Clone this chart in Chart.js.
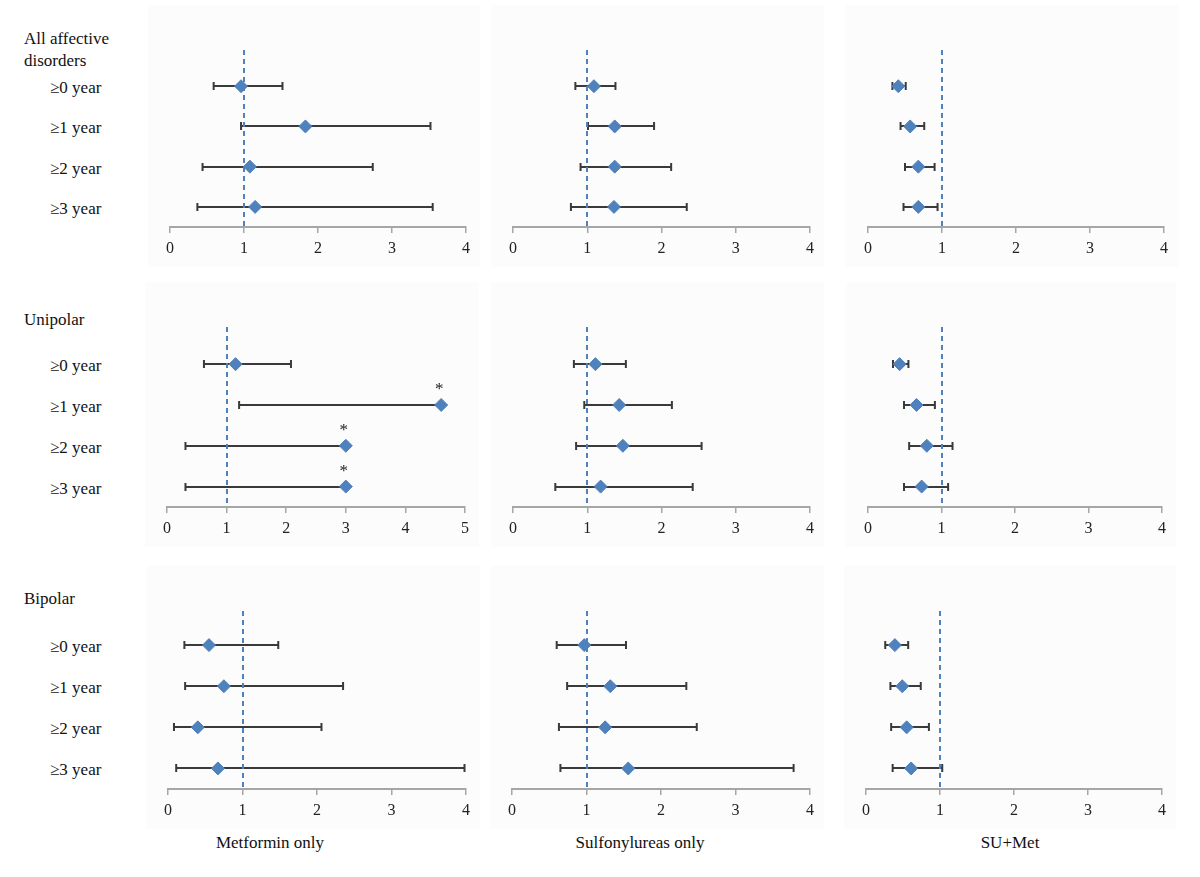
<!DOCTYPE html>
<html>
<head>
<meta charset="utf-8">
<script src="https://cdn.jsdelivr.net/npm/chart.js@4.4.0/dist/chart.umd.min.js"></script>
<style>
  body { margin:0; background:#fff; width:1200px; height:877px; position:relative; overflow:hidden;
         font-family:"Liberation Serif", "DejaVu Serif", serif; color:#111; }
  .bg { position:absolute; background:#fcfcfc; }
  .panel { position:absolute; }
  .lbl { position:absolute; font-size:17px; line-height:22px; }
  .yr { position:absolute; font-size:17px; line-height:22px; white-space:nowrap; }
  .title { position:absolute; font-size:17px; line-height:22px; white-space:nowrap; transform:translateX(-50%); }
</style>
</head>
<body>
<div id="root"></div>
<script>
const years = ['≥0 year', '≥1 year', '≥2 year', '≥3 year'];
const groups = ['All affective disorders', 'Unipolar', 'Bipolar'];
const treatments = ['Metformin only', 'Sulfonylureas only', 'SU+Met'];
const axisMax = [[4, 4, 4], [5, 4, 4], [4, 4, 4]];

// odds ratio + 95% CI, one list per treatment (Met, SU, SU+Met), rows = years
const allOR   = [[0.96, 1.83, 1.08, 1.15], [1.09, 1.37, 1.37, 1.36], [0.41, 0.57, 0.68, 0.68]];
const allLow  = [[0.59, 0.96, 0.44, 0.37], [0.84, 1.01, 0.91, 0.78], [0.33, 0.44, 0.50, 0.48]];
const allHigh = [[1.52, 3.52, 2.74, 3.55], [1.38, 1.90, 2.13, 2.34], [0.51, 0.76, 0.90, 0.94]];

const uniOR   = [[1.15, 4.60, 3.00, 3.00], [1.11, 1.43, 1.48, 1.18], [0.43, 0.66, 0.80, 0.73]];
const uniLow  = [[0.62, 1.21, 0.31, 0.31], [0.82, 0.96, 0.85, 0.57], [0.34, 0.49, 0.56, 0.49]];
const uniHigh = [[2.08, null, null, null], [1.52, 2.14, 2.54, 2.42], [0.55, 0.91, 1.15, 1.09]];
const uniStar = [[false, true, true, true], [false, false, false, false], [false, false, false, false]];

const biOR    = [[0.55, 0.75, 0.40, 0.67], [0.97, 1.32, 1.25, 1.56], [0.39, 0.49, 0.55, 0.61]];
const biLow   = [[0.22, 0.23, 0.08, 0.11], [0.60, 0.74, 0.63, 0.65], [0.26, 0.33, 0.34, 0.36]];
const biHigh  = [[1.48, 2.35, 2.06, 3.98], [1.53, 2.34, 2.48, 3.78], [0.57, 0.74, 0.85, 1.03]];

const noStar = [[false, false, false, false], [false, false, false, false], [false, false, false, false]];

const groupData = [
  { or: allOR, low: allLow, high: allHigh, star: noStar },
  { or: uniOR, low: uniLow, high: uniHigh, star: uniStar },
  { or: biOR,  low: biLow,  high: biHigh,  star: noStar }
];

// layout (page pixels)
const rowTop  = [50, 327, 611];
const rowAxis = [227, 507, 789];
const rowYMin = [-0.9, -0.91, -0.83];
const colX0 = [[170, 513, 868], [167, 513, 868], [168, 512, 866]];
const colX1 = [[466, 810, 1164], [465, 810, 1162], [466, 810, 1162]];
const groupLabelTop = [28, 309, 588];
const titleX = [270, 640, 1010];

const PAD = 10, AXIS_H = 34, PAD_B = 4;
const blue = '#4f81bd';
const root = document.getElementById('root');

const forestPlugin = {
  id: 'forest',
  beforeDatasetsDraw(chart) {
    const { ctx, chartArea } = chart;
    const x = chart.scales.x, y = chart.scales.y;
    const ds = chart.data.datasets[0];
    ctx.save();
    ctx.strokeStyle = '#3a3a3a';
    ctx.lineWidth = 2;
    ds.or.forEach((v, i) => {
      const py = Math.round(y.getPixelForValue(i));
      const xl = x.getPixelForValue(ds.low[i]);
      const xh = x.getPixelForValue(ds.high[i] == null ? v : ds.high[i]);
      ctx.beginPath();
      ctx.moveTo(xl, py); ctx.lineTo(xh, py);
      ctx.moveTo(xl, py - 4); ctx.lineTo(xl, py + 4);
      if (ds.high[i] != null) { ctx.moveTo(xh, py - 4); ctx.lineTo(xh, py + 4); }
      ctx.stroke();
    });
    // reference line at OR = 1
    const rx = Math.round(x.getPixelForValue(1));
    ctx.strokeStyle = blue;
    ctx.lineWidth = 2;
    ctx.setLineDash([5, 4]);
    ctx.beginPath();
    ctx.moveTo(rx, chartArea.top);
    ctx.lineTo(rx, chartArea.bottom);
    ctx.stroke();
    ctx.restore();
  },
  afterDatasetsDraw(chart) {
    const { ctx } = chart;
    const x = chart.scales.x, y = chart.scales.y;
    const ds = chart.data.datasets[0];
    ctx.save();
    ctx.fillStyle = '#222';
    ctx.font = '17px "Liberation Serif"';
    ctx.textAlign = 'center';
    ctx.textBaseline = 'alphabetic';
    ds.or.forEach((v, i) => {
      if (ds.star[i]) ctx.fillText('*', x.getPixelForValue(v) - 2, y.getPixelForValue(i) - 11);
    });
    ctx.restore();
  }
};

const makePanel = (r, c) => {
  const g = groupData[r];
  const left = colX0[r][c] - PAD;
  const top = rowTop[r] - PAD;
  const w = colX1[r][c] - colX0[r][c] + 2 * PAD;
  const h = rowAxis[r] - rowTop[r] + PAD + AXIS_H + PAD_B;

  const bg = document.createElement('div');
  bg.className = 'bg';
  bg.style.left = (colX0[r][c] - 22) + 'px';
  bg.style.top = (rowTop[r] - 45) + 'px';
  bg.style.width = (colX1[r][c] - colX0[r][c] + 36) + 'px';
  bg.style.height = (rowAxis[r] - rowTop[r] + 85) + 'px';
  root.appendChild(bg);

  const div = document.createElement('div');
  div.className = 'panel';
  div.style.left = left + 'px';
  div.style.top = top + 'px';
  const canvas = document.createElement('canvas');
  canvas.width = w; canvas.height = h;
  canvas.style.width = w + 'px'; canvas.style.height = h + 'px';
  div.appendChild(canvas);
  root.appendChild(div);

  new Chart(canvas.getContext('2d'), {
    type: 'scatter',
    data: {
      datasets: [{
        data: g.or[c].map((v, i) => ({ x: v, y: i })),
        or: g.or[c], low: g.low[c], high: g.high[c], star: g.star[c],
        pointStyle: 'rectRot',
        radius: 6.5,
        hoverRadius: 6.5,
        borderWidth: 1,
        backgroundColor: blue,
        borderColor: blue,
        clip: false
      }]
    },
    options: {
      responsive: false,
      animation: false,
      layout: { padding: { left: PAD, right: PAD, top: PAD, bottom: PAD_B } },
      plugins: { legend: { display: false }, tooltip: { enabled: false } },
      scales: {
        x: {
          type: 'linear', min: 0, max: axisMax[r][c],
          afterFit: s => { s.height = AXIS_H; },
          ticks: { stepSize: 1, padding: 6, color: '#222', font: { family: 'Liberation Serif', size: 16 } },
          grid: { display: true, drawOnChartArea: false, drawTicks: true, tickLength: 6, color: '#a6a6a6', lineWidth: 1.5 },
          border: { display: true, color: '#a6a6a6', width: 2 }
        },
        y: { type: 'linear', display: false, reverse: true, min: rowYMin[r], max: 3.5 }
      }
    },
    plugins: [forestPlugin]
  });
};

for (let r = 0; r < 3; r++) {
  for (let c = 0; c < 3; c++) makePanel(r, c);

  const gl = document.createElement('div');
  gl.className = 'lbl';
  gl.style.left = '24px';
  gl.style.top = groupLabelTop[r] + 'px';
  gl.style.width = '115px';
  gl.textContent = groups[r];
  root.appendChild(gl);

  // year labels, placed on the same row spacing as the plots
  const unit = (rowAxis[r] - rowTop[r]) / (3.5 - rowYMin[r]);
  years.forEach((t, i) => {
    const yl = document.createElement('div');
    yl.className = 'yr';
    yl.style.left = '50px';
    yl.style.top = (rowTop[r] + (i - rowYMin[r]) * unit - 9) + 'px';
    yl.textContent = t;
    root.appendChild(yl);
  });
}

treatments.forEach((t, c) => {
  const d = document.createElement('div');
  d.className = 'title';
  d.style.left = titleX[c] + 'px';
  d.style.top = '832px';
  d.textContent = t;
  root.appendChild(d);
});
</script>
</body>
</html>
